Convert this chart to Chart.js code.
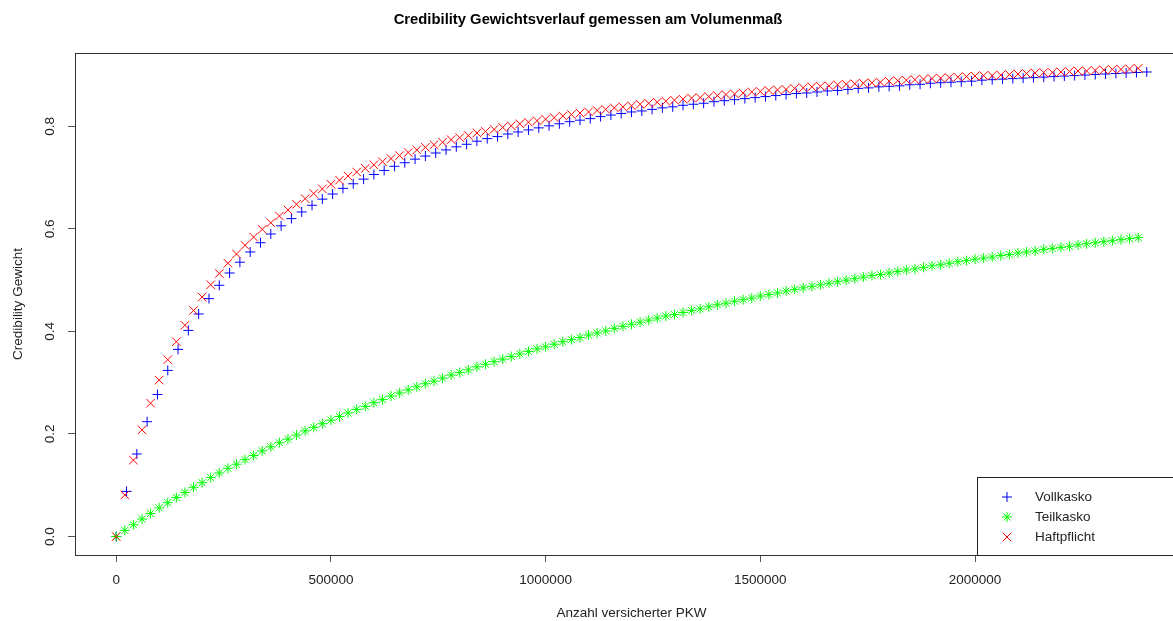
<!DOCTYPE html>
<html>
<head>
<meta charset="utf-8">
<script src="https://cdn.jsdelivr.net/npm/chart.js@4/dist/chart.umd.min.js"></script>
<style>
  html, body { margin: 0; padding: 0; overflow: hidden; background: #fff; }
  #wrap { width: 1200px; height: 621px; }
</style>
</head>
<body>
<div id="wrap"><canvas id="chart" width="1200" height="621"></canvas></div>
<script>
// Anzahl versicherter PKW (x-Werte), Teilkasko und Haftpflicht in 20000er Schritten
const pkwSchritt20k = [0, 20000, 40000, 60000, 80000, 100000, 120000, 140000, 160000, 180000,
  200000, 220000, 240000, 260000, 280000, 300000, 320000, 340000, 360000, 380000,
  400000, 420000, 440000, 460000, 480000, 500000, 520000, 540000, 560000, 580000,
  600000, 620000, 640000, 660000, 680000, 700000, 720000, 740000, 760000, 780000,
  800000, 820000, 840000, 860000, 880000, 900000, 920000, 940000, 960000, 980000,
  1000000, 1020000, 1040000, 1060000, 1080000, 1100000, 1120000, 1140000, 1160000, 1180000,
  1200000, 1220000, 1240000, 1260000, 1280000, 1300000, 1320000, 1340000, 1360000, 1380000,
  1400000, 1420000, 1440000, 1460000, 1480000, 1500000, 1520000, 1540000, 1560000, 1580000,
  1600000, 1620000, 1640000, 1660000, 1680000, 1700000, 1720000, 1740000, 1760000, 1780000,
  1800000, 1820000, 1840000, 1860000, 1880000, 1900000, 1920000, 1940000, 1960000, 1980000,
  2000000, 2020000, 2040000, 2060000, 2080000, 2100000, 2120000, 2140000, 2160000, 2180000,
  2200000, 2220000, 2240000, 2260000, 2280000, 2300000, 2320000, 2340000, 2360000, 2380000];

// Vollkasko in 24000er Schritten
const pkwSchritt24k = [0, 24000, 48000, 72000, 96000, 120000, 144000, 168000, 192000, 216000,
  240000, 264000, 288000, 312000, 336000, 360000, 384000, 408000, 432000, 456000,
  480000, 504000, 528000, 552000, 576000, 600000, 624000, 648000, 672000, 696000,
  720000, 744000, 768000, 792000, 816000, 840000, 864000, 888000, 912000, 936000,
  960000, 984000, 1008000, 1032000, 1056000, 1080000, 1104000, 1128000, 1152000, 1176000,
  1200000, 1224000, 1248000, 1272000, 1296000, 1320000, 1344000, 1368000, 1392000, 1416000,
  1440000, 1464000, 1488000, 1512000, 1536000, 1560000, 1584000, 1608000, 1632000, 1656000,
  1680000, 1704000, 1728000, 1752000, 1776000, 1800000, 1824000, 1848000, 1872000, 1896000,
  1920000, 1944000, 1968000, 1992000, 2016000, 2040000, 2064000, 2088000, 2112000, 2136000,
  2160000, 2184000, 2208000, 2232000, 2256000, 2280000, 2304000, 2328000, 2352000, 2376000,
  2400000];

// Credibility Gewichte
const vollkasko = [0, 0.088, 0.161, 0.224, 0.277, 0.324, 0.365, 0.402, 0.434, 0.464,
  0.490, 0.514, 0.535, 0.555, 0.573, 0.590, 0.606, 0.620, 0.633, 0.646,
  0.658, 0.668, 0.679, 0.688, 0.697, 0.706, 0.714, 0.722, 0.729, 0.736,
  0.742, 0.748, 0.754, 0.760, 0.765, 0.771, 0.776, 0.780, 0.785, 0.789,
  0.793, 0.797, 0.801, 0.805, 0.809, 0.812, 0.815, 0.819, 0.822, 0.825,
  0.828, 0.830, 0.833, 0.836, 0.838, 0.841, 0.843, 0.845, 0.848, 0.850,
  0.852, 0.854, 0.856, 0.858, 0.860, 0.862, 0.864, 0.865, 0.867, 0.869,
  0.870, 0.872, 0.874, 0.875, 0.877, 0.878, 0.879, 0.881, 0.882, 0.884,
  0.885, 0.886, 0.887, 0.888, 0.890, 0.891, 0.892, 0.893, 0.894, 0.895,
  0.896, 0.897, 0.898, 0.899, 0.900, 0.901, 0.902, 0.903, 0.904, 0.905,
  0.906];

const teilkasko = [0, 0.012, 0.023, 0.034, 0.045, 0.056, 0.066, 0.076, 0.086, 0.096,
  0.105, 0.115, 0.124, 0.133, 0.141, 0.150, 0.158, 0.167, 0.175, 0.183,
  0.190, 0.198, 0.206, 0.213, 0.220, 0.227, 0.234, 0.241, 0.248, 0.254,
  0.261, 0.267, 0.274, 0.280, 0.286, 0.292, 0.298, 0.303, 0.309, 0.315,
  0.320, 0.325, 0.331, 0.336, 0.341, 0.346, 0.351, 0.356, 0.361, 0.366,
  0.370, 0.375, 0.380, 0.384, 0.388, 0.393, 0.397, 0.401, 0.406, 0.410,
  0.414, 0.418, 0.422, 0.426, 0.430, 0.433, 0.437, 0.441, 0.444, 0.448,
  0.452, 0.455, 0.459, 0.462, 0.465, 0.469, 0.472, 0.475, 0.479, 0.482,
  0.485, 0.488, 0.491, 0.494, 0.497, 0.500, 0.503, 0.506, 0.509, 0.511,
  0.514, 0.517, 0.520, 0.522, 0.525, 0.528, 0.530, 0.533, 0.536, 0.538,
  0.541, 0.543, 0.545, 0.548, 0.550, 0.553, 0.555, 0.557, 0.560, 0.562,
  0.564, 0.566, 0.569, 0.571, 0.573, 0.575, 0.577, 0.579, 0.581, 0.583];

const haftpflicht = [0, 0.081, 0.149, 0.208, 0.260, 0.305, 0.345, 0.380, 0.412, 0.441,
  0.467, 0.491, 0.513, 0.533, 0.551, 0.568, 0.584, 0.599, 0.612, 0.625,
  0.637, 0.648, 0.659, 0.669, 0.678, 0.687, 0.695, 0.703, 0.711, 0.718,
  0.725, 0.731, 0.737, 0.743, 0.749, 0.754, 0.759, 0.764, 0.769, 0.774,
  0.778, 0.782, 0.787, 0.790, 0.794, 0.798, 0.801, 0.805, 0.808, 0.811,
  0.814, 0.817, 0.820, 0.823, 0.826, 0.828, 0.831, 0.833, 0.836, 0.838,
  0.840, 0.843, 0.845, 0.847, 0.849, 0.851, 0.853, 0.855, 0.856, 0.858,
  0.860, 0.862, 0.863, 0.865, 0.867, 0.868, 0.870, 0.871, 0.872, 0.874,
  0.875, 0.877, 0.878, 0.879, 0.881, 0.882, 0.883, 0.884, 0.885, 0.886,
  0.888, 0.889, 0.890, 0.891, 0.892, 0.893, 0.894, 0.895, 0.896, 0.897,
  0.898, 0.899, 0.899, 0.900, 0.901, 0.902, 0.903, 0.904, 0.905, 0.905,
  0.906, 0.907, 0.908, 0.908, 0.909, 0.910, 0.911, 0.911, 0.912, 0.913];

const xTicks = [0, 500000, 1000000, 1500000, 2000000];
const yTicks = [0, 0.2, 0.4, 0.6, 0.8];

const titel = 'Credibility Gewichtsverlauf gemessen am Volumenmaß';
const schrift = '"Liberation Sans", Arial, sans-serif';

// x/y Paare für Chart.js bauen
function punkte(xs, ys) {
    return xs.map((x, i) => ({ x: x, y: ys[i] }));
}

// Symbole wie in R zeichnen (+, *, x)
function symbol(ctx, art, x, y, r) {
    ctx.beginPath();
    if (art === 'cross' || art === 'star') {
        ctx.moveTo(x - r, y); ctx.lineTo(x + r, y);
        ctx.moveTo(x, y - r); ctx.lineTo(x, y + r);
    }
    if (art === 'crossRot' || art === 'star') {
        const d = r * Math.SQRT1_2;
        ctx.moveTo(x - d, y - d); ctx.lineTo(x + d, y + d);
        ctx.moveTo(x - d, y + d); ctx.lineTo(x + d, y - d);
    }
    ctx.stroke();
}

// Titel, Achsentitel, Rahmen und Legende
const beschriftung = {
    id: 'beschriftung',
    afterDraw(chart) {
        const ctx = chart.ctx;
        const a = chart.chartArea;
        ctx.save();
        ctx.strokeStyle = '#333';
        ctx.lineWidth = 1;
        ctx.strokeRect(Math.round(a.left) + 0.5, Math.round(a.top) + 0.5,
                       Math.round(a.right - a.left), Math.round(a.bottom - a.top));

        ctx.fillStyle = '#000';
        ctx.textAlign = 'center';
        ctx.textBaseline = 'middle';
        ctx.font = 'bold 14.8px ' + schrift;
        ctx.fillText(titel, 588, 20);

        ctx.font = '13.5px ' + schrift;
        ctx.fillStyle = '#222';
        ctx.fillText('Anzahl versicherter PKW', (a.left + a.right) / 2, 613);

        ctx.save();
        ctx.translate(18, (a.top + a.bottom) / 2);
        ctx.rotate(-Math.PI / 2);
        ctx.fillText('Credibility Gewicht', 0, 0);
        ctx.restore();

        // Legende unten rechts
        const lx = 977.5, ly = 477.5;
        ctx.strokeStyle = '#222';
        ctx.strokeRect(lx, ly, chart.width - lx + 5, Math.round(a.bottom) - ly + 0.5);
        ctx.textAlign = 'left';
        chart.data.datasets.forEach((ds, i) => {
            const y = 497 + i * 20;
            ctx.strokeStyle = ds.pointBorderColor;
            symbol(ctx, ds.pointStyle, 1007, y, ds.pointRadius);
            ctx.fillStyle = '#222';
            ctx.fillText(ds.label, 1035, y);
        });
        ctx.restore();
    }
};

new Chart(document.getElementById('chart'), {
    type: 'scatter',
    data: {
        datasets: [
            { label: 'Vollkasko', data: punkte(pkwSchritt24k, vollkasko), pointStyle: 'cross',
              pointBorderColor: '#0000ff', pointRadius: 5, pointBorderWidth: 1, order: 3 },
            { label: 'Teilkasko', data: punkte(pkwSchritt20k, teilkasko), pointStyle: 'star',
              pointBorderColor: '#00ff00', pointRadius: 5, pointBorderWidth: 1, order: 2 },
            { label: 'Haftpflicht', data: punkte(pkwSchritt20k, haftpflicht), pointStyle: 'crossRot',
              pointBorderColor: '#ff0000', pointRadius: 6, pointBorderWidth: 1, order: 1 }
        ]
    },
    options: {
        responsive: false,
        animation: false,
        events: [],
        layout: { padding: { left: 0, top: 53, right: 12, bottom: 0 } },
        plugins: {
            legend: { display: false },
            tooltip: { enabled: false },
            title: { display: false }
        },
        scales: {
            x: {
                type: 'linear',
                min: -96000,
                max: 2496000,
                afterBuildTicks: s => { s.ticks = xTicks.map(v => ({ value: v })); },
                afterFit: s => { s.height = 66; },
                grid: { drawOnChartArea: false, drawTicks: true, tickLength: 7, tickColor: '#555' },
                border: { display: false },
                ticks: {
                    autoSkip: false, maxRotation: 0, padding: 10, color: '#222',
                    font: { family: schrift, size: 13.5 },
                    callback: v => String(v)
                }
            },
            y: {
                type: 'linear',
                min: -0.036,
                max: 0.943,
                afterBuildTicks: s => { s.ticks = yTicks.map(v => ({ value: v })); },
                afterFit: s => { s.width = 75; },
                grid: { drawOnChartArea: false, drawTicks: true, tickLength: 7, tickColor: '#555' },
                border: { display: false },
                ticks: {
                    autoSkip: false, minRotation: 90, maxRotation: 90, crossAlign: 'center',
                    padding: 8, color: '#222',
                    font: { family: schrift, size: 13.5 },
                    callback: v => v.toFixed(1)
                }
            }
        }
    },
    plugins: [beschriftung]
});
</script>
</body>
</html>
